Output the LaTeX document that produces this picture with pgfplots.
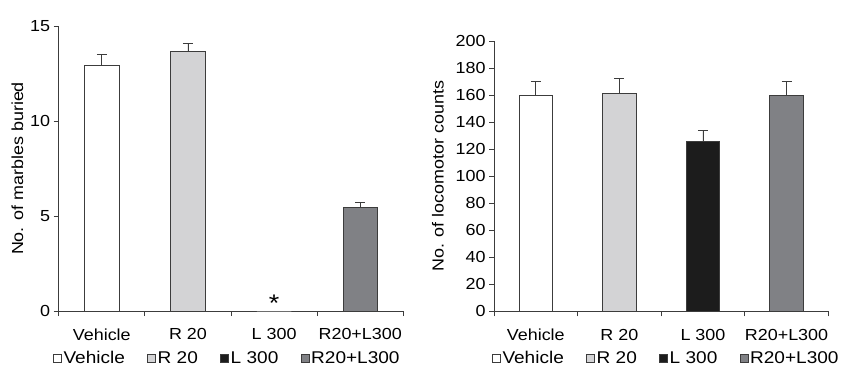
\documentclass[border=0pt]{standalone}
\usepackage{pgfplots}
\pgfplotsset{compat=1.18}
\usepackage{fontspec}
\setmainfont{Liberation Sans}[FakeStretch=1.12]
\definecolor{lgray}{RGB}{211,211,213}
\definecolor{dgray}{RGB}{128,129,133}
\definecolor{blk}{RGB}{28,28,28}
\definecolor{edge}{RGB}{60,60,60}
\pgfplotsset{
 mystyle/.style={
  scale only axis,
  axis x line=bottom, axis y line=left,
  axis line style={-, color=edge, line width=0.8pt},
  xmin=0,xmax=4, ymin=0,
  xtick={0,1,2,3,4},
  x tick label as interval,
  xticklabels={Vehicle,R 20,L 300,R20+L300},
  xticklabel style={yshift=-9pt},
  tick align=outside,
  major tick length=5pt,
  tick style={color=edge, line width=0.8pt},
  ybar, bar width=0.4, bar shift=0pt,
  /pgf/number format/assume math mode=true,
  tick label style={font=\fontsize{16}{19}\selectfont},
  label style={font=\fontsize{16}{19}\selectfont},
  legend columns=4,
  legend style={draw=none, fill=none, inner sep=0pt, font=\fontsize{17}{20}\selectfont, /tikz/every even column/.append style={column sep=21pt}, anchor=west, nodes={inner sep=1.5pt}},
  legend image code/.code={\draw[#1, line width=0.8pt] (0pt,-4pt) rectangle (8pt,4pt);},
  error bars/y dir=plus, error bars/y explicit,
  error bars/error bar style={color=edge, line width=0.8pt},
  error bars/error mark options={rotate=90, mark size=5pt, line width=0.8pt, color=edge},
 }
}
\begin{document}
\begin{tikzpicture}
\useasboundingbox (0,0) rectangle (842pt,368pt);
\begin{axis}[mystyle, at={(58.7pt,57pt)}, anchor=south west,
  width=344.6pt, height=285pt, ymax=15, ytick={0,5,10,15},
  ylabel={No. of marbles buried},
  legend style={at={(-0.0165,-0.166)}}]
\addplot[fill=white, draw=edge, line width=0.8pt] coordinates {(0.5,12.93) +- (0,0.57)};
\addlegendentry{Vehicle}
\addplot[fill=lgray, draw=edge, line width=0.8pt] coordinates {(1.5,13.67) +- (0,0.43)};
\addlegendentry{R 20}
\addlegendimage{fill=blk, draw=edge, line width=0.8pt}
\addlegendentry{L 300}
\addplot[fill=blk, draw=edge!60, line width=0.8pt, forget plot] coordinates {(2.5,0)};
\addplot[fill=dgray, draw=edge, line width=0.8pt] coordinates {(3.5,5.46) +- (0,0.27)};
\addlegendentry{R20+L300}
\node[anchor=base, font=\fontsize{24}{26}\selectfont] at (axis cs:2.5,-0.04) {*};
\end{axis}
\begin{axis}[mystyle, at={(494pt,56.7pt)}, anchor=south west,
  width=334.3pt, height=270pt, ymax=200, ytick distance=20,
  ylabel={No. of locomotor counts}, ylabel style={yshift=5pt},
  legend style={at={(-0.006,-0.174)}}]
\addplot[fill=white, draw=edge, line width=0.8pt] coordinates {(0.5,160) +- (0,10.3)};
\addlegendentry{Vehicle}
\addplot[fill=lgray, draw=edge, line width=0.8pt] coordinates {(1.5,161.2) +- (0,11.4)};
\addlegendentry{R 20}
\addplot[fill=blk, draw=edge, line width=0.8pt] coordinates {(2.5,125.9) +- (0,7.9)};
\addlegendentry{L 300}
\addplot[fill=dgray, draw=edge, line width=0.8pt] coordinates {(3.5,160) +- (0,10.3)};
\addlegendentry{R20+L300}
\end{axis}
\end{tikzpicture}
\end{document}
